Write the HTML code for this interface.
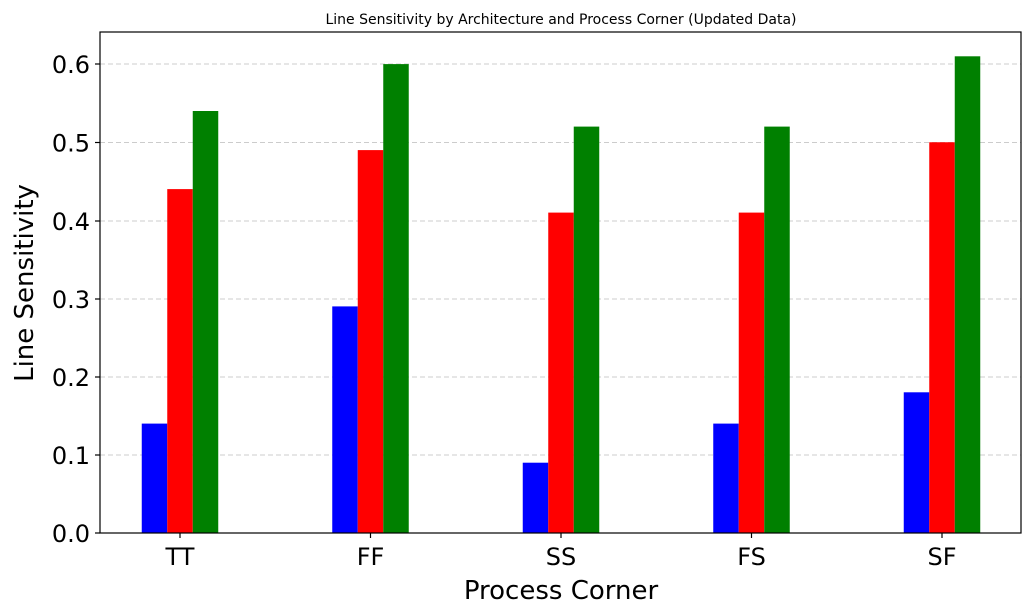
<!DOCTYPE html>
<html><head><meta charset="utf-8"><style>body{margin:0;background:#fff}svg{display:block}text{font-family:"DejaVu Sans","Liberation Sans",sans-serif}</style></head>
<body>
<svg width="1031" height="614" viewBox="0 0 1031 614" xmlns="http://www.w3.org/2000/svg">
<rect width="1031" height="614" fill="#fff"/>
<g stroke="#ccc" stroke-dasharray="5,3" stroke-width="1">
<line x1="100" x2="1021" y1="455" y2="455"/>
<line x1="100" x2="1021" y1="377" y2="377"/>
<line x1="100" x2="1021" y1="299" y2="299"/>
<line x1="100" x2="1021" y1="221" y2="221"/>
<line x1="100" x2="1021" y1="142.5" y2="142.5"/>
<line x1="100" x2="1021" y1="64" y2="64"/>
</g>
<g>
<rect x="141.75" y="423.6" width="25.5" height="109.4" fill="#0000ff"/>
<rect x="167.25" y="189.1" width="25.5" height="343.9" fill="#ff0000"/>
<rect x="192.75" y="111" width="25.5" height="422" fill="#008000"/>
<rect x="332.25" y="306.4" width="25.5" height="226.6" fill="#0000ff"/>
<rect x="357.75" y="150.1" width="25.5" height="382.9" fill="#ff0000"/>
<rect x="383.25" y="64.1" width="25.5" height="468.9" fill="#008000"/>
<rect x="522.75" y="462.7" width="25.5" height="70.3" fill="#0000ff"/>
<rect x="548.25" y="212.6" width="25.5" height="320.4" fill="#ff0000"/>
<rect x="573.75" y="126.6" width="25.5" height="406.4" fill="#008000"/>
<rect x="713.25" y="423.6" width="25.5" height="109.4" fill="#0000ff"/>
<rect x="738.75" y="212.6" width="25.5" height="320.4" fill="#ff0000"/>
<rect x="764.25" y="126.6" width="25.5" height="406.4" fill="#008000"/>
<rect x="903.75" y="392.3" width="25.5" height="140.7" fill="#0000ff"/>
<rect x="929.25" y="142.25" width="25.5" height="390.75" fill="#ff0000"/>
<rect x="954.75" y="56.3" width="25.5" height="476.7" fill="#008000"/>
</g>
<rect x="100" y="32" width="921" height="501" fill="none" stroke="#000" stroke-width="1.2"/>
<g stroke="#000" stroke-width="1.2">
<line x1="95" x2="100" y1="533" y2="533"/><line x1="95" x2="100" y1="455" y2="455"/><line x1="95" x2="100" y1="377" y2="377"/><line x1="95" x2="100" y1="299" y2="299"/><line x1="95" x2="100" y1="221" y2="221"/><line x1="95" x2="100" y1="142.5" y2="142.5"/><line x1="95" x2="100" y1="64" y2="64"/>
<line x1="180" x2="180" y1="533" y2="538"/><line x1="370.5" x2="370.5" y1="533" y2="538"/><line x1="561" x2="561" y1="533" y2="538"/><line x1="751.5" x2="751.5" y1="533" y2="538"/><line x1="942" x2="942" y1="533" y2="538"/>
</g>
<g font-size="24" text-anchor="end" fill="#000">
<text x="90" y="542">0.0</text><text x="90" y="464">0.1</text><text x="90" y="386">0.2</text><text x="90" y="308">0.3</text><text x="90" y="230">0.4</text><text x="90" y="151.5">0.5</text><text x="90" y="73">0.6</text>
</g>
<g font-size="24" text-anchor="middle" fill="#000">
<text x="180" y="565">TT</text><text x="370.5" y="565">FF</text><text x="561" y="565">SS</text><text x="751.5" y="565">FS</text><text x="942" y="565">SF</text>
<text x="561" y="599" font-size="26">Process Corner</text>
<text x="561" y="24" font-size="14">Line Sensitivity by Architecture and Process Corner (Updated Data)</text>
<text transform="translate(33,283) rotate(-90)" font-size="26">Line Sensitivity</text>
</g>
</svg>
</body></html>
